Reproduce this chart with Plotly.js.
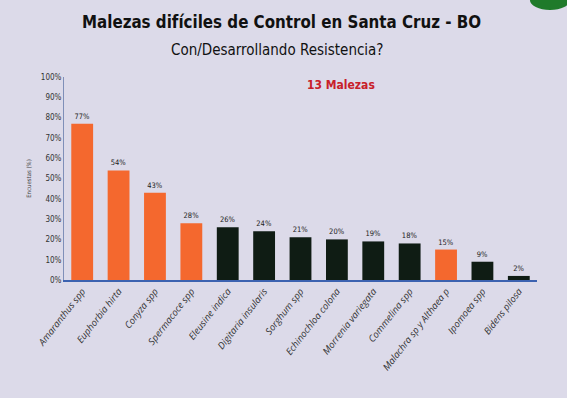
<!DOCTYPE html>
<html>
<head>
<meta charset="utf-8">
<script src="https://cdn.plot.ly/plotly-3.0.1.min.js"></script>
<style>html,body{margin:0;padding:0;background:#dcdae9;}#chart{width:567px;height:398px;}</style>
</head>
<body>
<div id="chart"></div>
<script>
const categories = ["Amaranthus spp","Euphorbia hirta","Conyza spp","Spermacoce spp","Eleusine indica","Digitaria insularis","Sorghum spp","Echinochloa colona","Morrenia variegata","Commelina spp","Malachra sp y Althaea p","Ipomoea spp","Bidens pilosa"];
const values = [77,54,43,28,26,24,21,20,19,18,15,9,2];
const resistant = [true,true,true,true,false,false,false,false,false,false,true,false,false];
const labels = values.map(v => v + "%");

const ORANGE = "#f4682e", DARK = "#0f1c14";
const COND = "DejaVu Sans Condensed, Liberation Sans, sans-serif";

const trace = {
  type: "bar",
  x: categories,
  y: values.map(v => v / 100),
  text: labels,
  textposition: "outside",
  cliponaxis: false,
  textfont: {family: COND, size: 7.5, color: "#222"},
  marker: {color: resistant.map(r => r ? ORANGE : DARK)},
  hoverinfo: "skip"
};

const layout = {
  width: 567, height: 398,
  paper_bgcolor: "#dcdae9",
  plot_bgcolor: "#dcdae9",
  margin: {l: 64, r: 30, t: 77, b: 118},
  bargap: 0.4,
  showlegend: false,
  font: {family: COND, color: "#222"},
  xaxis: {
    tickangle: -52,
    tickfont: {family: "Open Sans, Liberation Sans, sans-serif", size: 9.5, color: "#333", style: "italic"},
    showline: true, linecolor: "#3c62b0", linewidth: 2,
    ticks: "", showgrid: false, zeroline: false
  },
  yaxis: {
    range: [0, 1], dtick: 0.1, tickformat: ".0%",
    tickfont: {family: COND, size: 8, color: "#333"},
    showline: true, linecolor: "#7f8fb8", linewidth: 1,
    showgrid: false, zeroline: false, ticks: "",
    title: {text: "Encuestas (%)", font: {size: 6, color: "#444"}, standoff: 8}
  },
  annotations: [
    {text: "<b>Malezas difíciles de Control en Santa Cruz - BO</b>", xref: "paper", yref: "paper", x: 0.459, y: 1, xanchor: "center", yanchor: "middle", yshift: 55,
     showarrow: false, font: {family: COND, size: 16.8, color: "#111"}},
    {text: "Con/Desarrollando Resistencia?", xref: "paper", yref: "paper", x: 0.452, y: 1, xanchor: "center", yanchor: "middle", yshift: 27,
     showarrow: false, font: {family: COND, size: 15, color: "#111"}},
    {text: "<b>13 Malezas</b>", xref: "paper", yref: "paper", x: 0.585, y: 1, xanchor: "center", yanchor: "middle", yshift: -8,
     showarrow: false, font: {family: COND, size: 12, color: "#c8202a"}}
  ],
  shapes: [
    {type: "circle", xref: "paper", yref: "paper", x0: 0.985, x1: 1.07, y0: 1.33, y1: 1.43, fillcolor: "#1f7a2a", line: {width: 0}}
  ]
};

Plotly.newPlot("chart", [trace], layout, {displayModeBar: false, staticPlot: true});
</script>
</body>
</html>
